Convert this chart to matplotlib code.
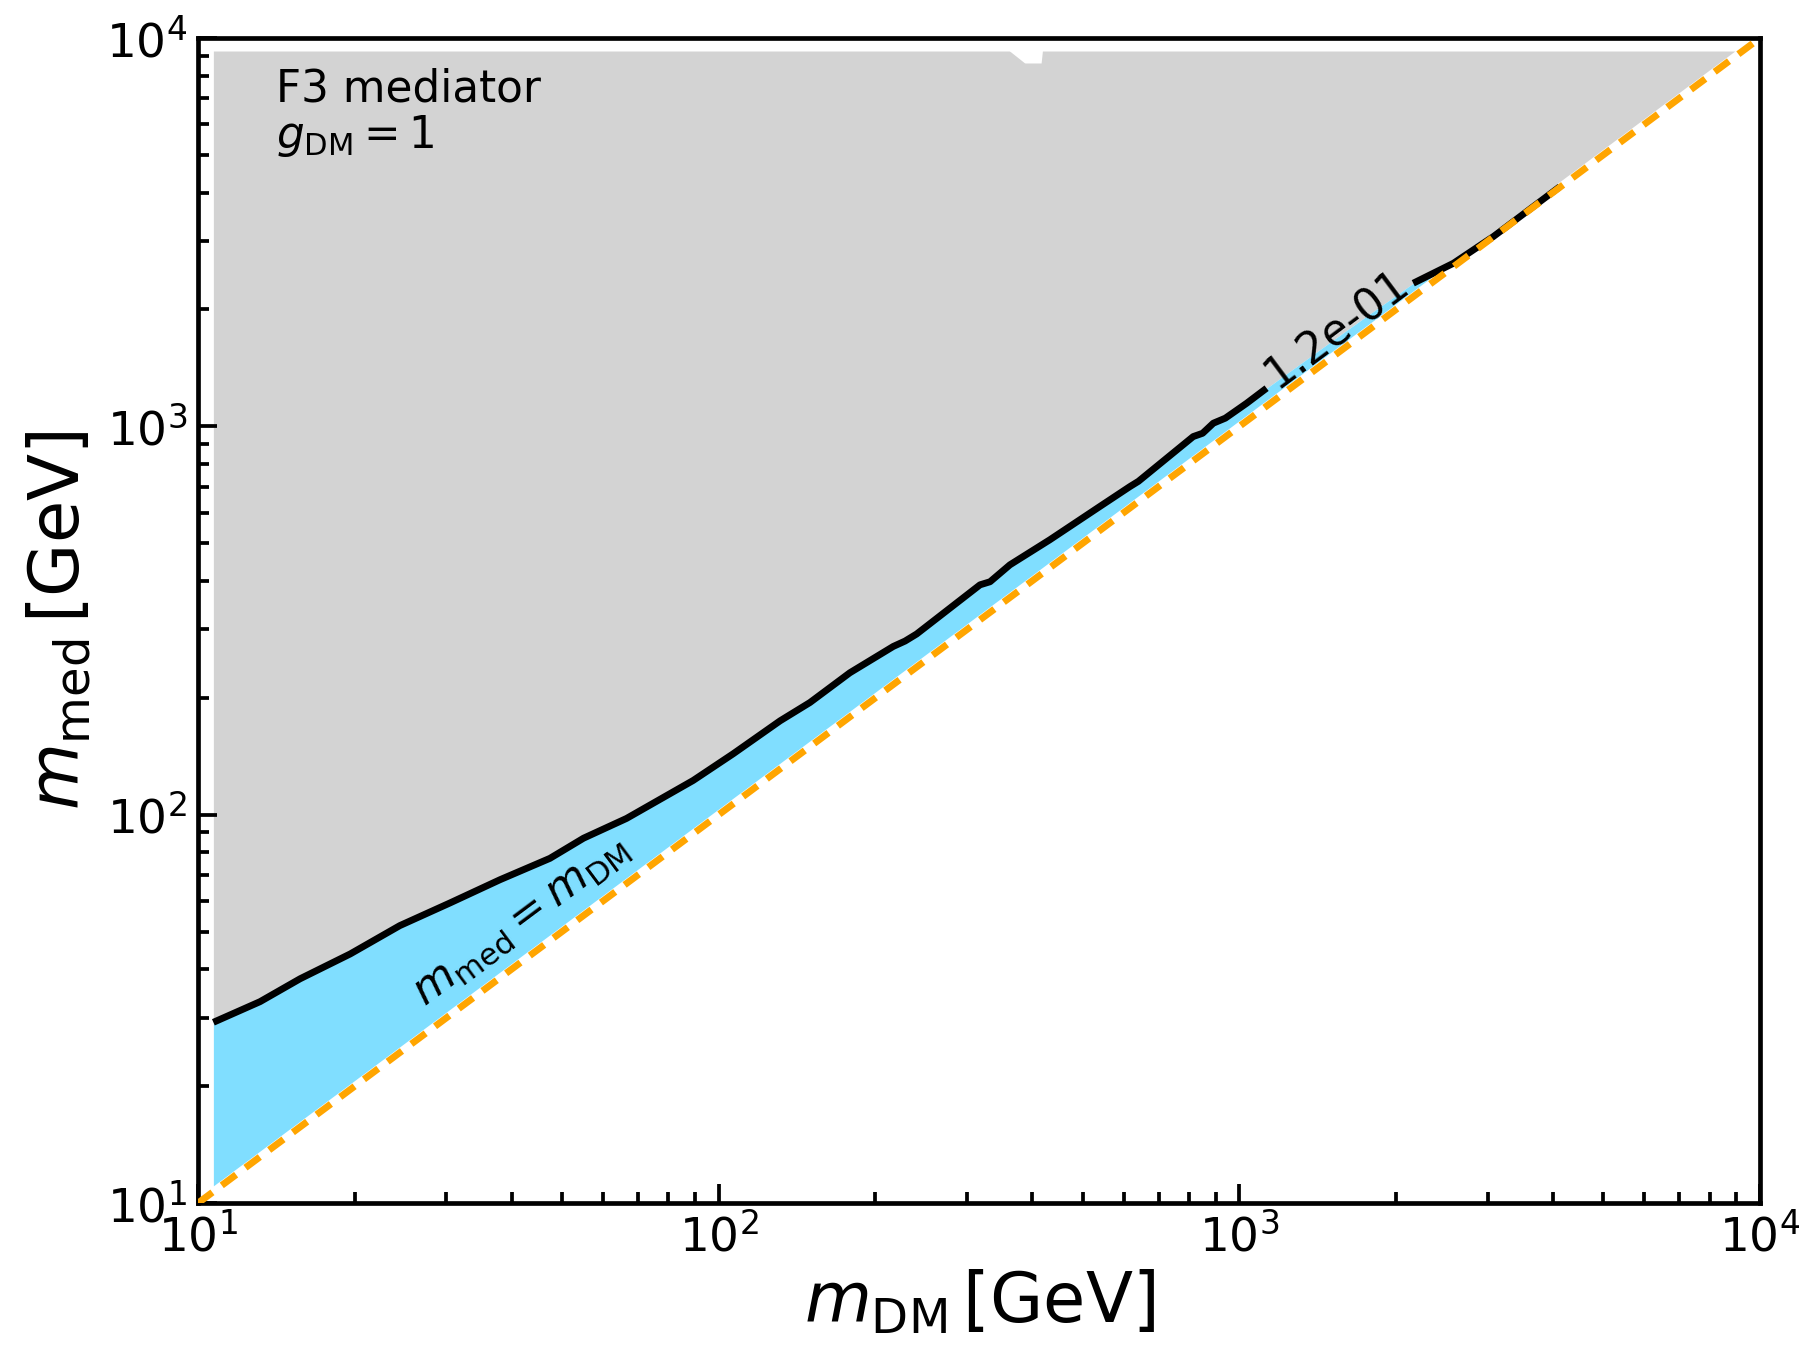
import matplotlib
matplotlib.use('Agg')
import matplotlib.pyplot as plt
import numpy as np

# relic-density contour (m_DM, m_med) in GeV
m_dm_contour = np.array([10.7, 13.15, 15.7, 19.6, 24.4, 30.5, 38.0, 47.4, 55.0, 66.5,
                         89.3, 106.6, 131.2, 149.7, 178.6, 216.4, 228, 240, 317.6, 332,
                         362.5, 432.5, 539.5, 616.4, 640, 815.4, 850, 891.3, 940, 1033,
                         1128, 1600, 2158, 2577, 3074, 4124])
m_med_contour = np.array([29.2, 33.0, 37.8, 43.8, 51.8, 59.3, 68.0, 77.2, 87.0, 97.8,
                          122.5, 143.5, 174.5, 194.5, 232, 271.2, 280, 292, 390.8, 398,
                          440, 510.5, 621.8, 699.9, 722, 941.3, 960, 1019, 1050, 1147,
                          1254, 1760, 2337, 2630, 3081, 4140])
# contour label gap (m_DM range hidden by the inline label)
label_gap = (1130, 2150)
label_text = "1.2e-01"

# upper edge of the scanned grid (with the missing cell near 400 GeV)
grid_top_x = np.array([10.7, 362, 387, 418, 9260])
grid_top_y = np.array([9260, 9260, 8625, 8625, 9260])

diag = np.array([10.0, 1e4])

fig = plt.figure(figsize=(1804 / 225, 1349 / 225), dpi=225)
ax = fig.add_axes([0.1098, 0.1082, 0.8658, 0.8636])
ax.set_xscale('log')
ax.set_yscale('log')
ax.set_xlim(10, 1e4)
ax.set_ylim(10, 1e4)

gray = '#d3d3d3'
blue = '#80deff'
offset = 1.035  # fills stop just above the diagonal line

# gray region: above the contour, below the grid top
xs = np.geomspace(10.7, 9260, 1200)
low = np.interp(np.log(xs), np.log(m_dm_contour), np.log(m_med_contour), right=np.nan)
low = np.where(np.isnan(low), np.log(xs * offset), low)
low = np.exp(np.maximum(low, np.log(xs * offset)))
top = np.exp(np.interp(np.log(xs), np.log(grid_top_x[:4]), np.log(grid_top_y[:4])))
top = np.where(xs >= grid_top_x[3], grid_top_y[4], top)
ax.fill_between(xs, low, top, where=top > low, color=gray, lw=0, interpolate=True)

# blue region: between contour and the diagonal
xb = np.geomspace(10.7, m_dm_contour[-1], 1200)
upper_b = np.exp(np.interp(np.log(xb), np.log(m_dm_contour), np.log(m_med_contour)))
ax.fill_between(xb, xb * offset, upper_b, where=upper_b > xb * offset,
                color=blue, lw=0, interpolate=True)

# contour line, split around its label
mask1 = m_dm_contour <= label_gap[0]
mask2 = m_dm_contour >= label_gap[1]
ax.plot(m_dm_contour[mask1], m_med_contour[mask1], color='black', lw=2.2,
        solid_capstyle='butt')
ax.plot(m_dm_contour[mask2], m_med_contour[mask2], color='black', lw=2.2,
        solid_capstyle='butt')

# diagonal m_med = m_DM
ax.plot(diag, diag, color='orange', lw=2.2, ls=(0, (2.6, 1.7)), zorder=3)

angle = np.degrees(np.arctan((0.8636 * 1349) / (0.8658 * 1804)))
ax.text(1540, 1780, label_text, rotation=angle, rotation_mode='anchor',
        ha='center', va='center', fontsize=14)
ax.text(41.5, 53.7, r'$m_{\rm med} = m_{\rm DM}$', rotation=angle,
        rotation_mode='anchor', ha='center', va='center', fontsize=14)

ax.text(0.05, 0.975, 'F3 mediator', transform=ax.transAxes, fontsize=14,
        va='top', ha='left')
ax.text(0.05, 0.936, r'$g_{\rm DM} = 1$', transform=ax.transAxes, fontsize=14,
        va='top', ha='left')

ax.set_xlabel(r'$m_{\rm DM}\,[{\rm GeV}]$', fontsize=22, labelpad=2)
ax.set_ylabel(r'$m_{\rm med}\,[{\rm GeV}]$', fontsize=22, labelpad=4)

ax.tick_params(which='both', direction='in', top=False, right=False,
               labelsize=15, width=1.2)
ax.tick_params(which='major', length=6)
ax.tick_params(which='minor', length=3.5)
for s in ax.spines.values():
    s.set_linewidth(1.5)

fig.savefig('out.png', dpi=225)
